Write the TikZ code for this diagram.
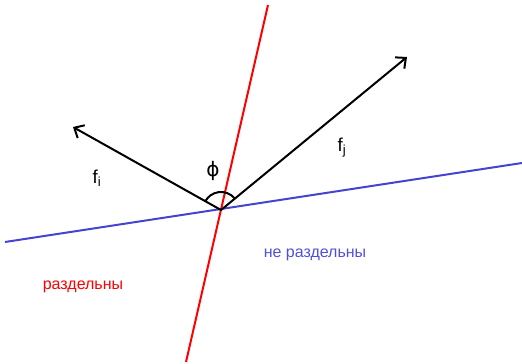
\documentclass[tikz,border=0pt]{standalone}
\usepackage{fontspec}
\setmainfont{Liberation Sans}
\newfontfamily\greekfont{DejaVu Sans}
\usetikzlibrary{arrows.meta,angles}

\definecolor{lineblue}{RGB}{68,68,208}
\definecolor{textblue}{RGB}{80,80,220}

\begin{document}
\begin{tikzpicture}
[
    x=0.75pt, y=-0.75pt,
    vec/.style={line width=1.5pt, -{Straight Barb[length=6pt,width=11pt,line width=1.5pt]}},
    sep line/.style={line width=1.5pt},
    lbl/.style={font=\fontsize{12}{14}\selectfont},
    vlbl/.style={font=\fontsize{14}{16}\selectfont}
]
    \useasboundingbox (0,0) rectangle (522,364);

    % lines through the point
    \coordinate (o) at (221,210);
    \coordinate (redtop) at (268,5);
    \coordinate (redbot) at (186,362);
    \coordinate (blueleft) at (5,242);
    \coordinate (blueright) at (522,163);
    \draw [sep line, red] (redtop) -- (redbot);
    \draw [sep line, lineblue] (blueleft) -- (blueright);

    % vectors and angle
    \coordinate (fi) at (73,127);
    \coordinate (fj) at (407,57);
    \draw [vec] (o) -- (fi);
    \draw [vec] (o) -- (fj);
    \pic [draw, line width=1.5pt, angle radius=13.5pt] {angle = fj--o--fi};

    \node [vlbl] (fi label) at (97,178) {f\textsubscript{i}};
    \node [vlbl] (fj label) at (342,148) {f\textsubscript{j}};
    \node [font=\greekfont\fontsize{15}{17}\selectfont] (phi label) at (213,171) {ϕ};

    \node [lbl, red] (sep) at (83,287) {раздельны};
    \node [lbl, textblue] (nonsep) at (315,255) {не раздельны};
\end{tikzpicture}
\end{document}
